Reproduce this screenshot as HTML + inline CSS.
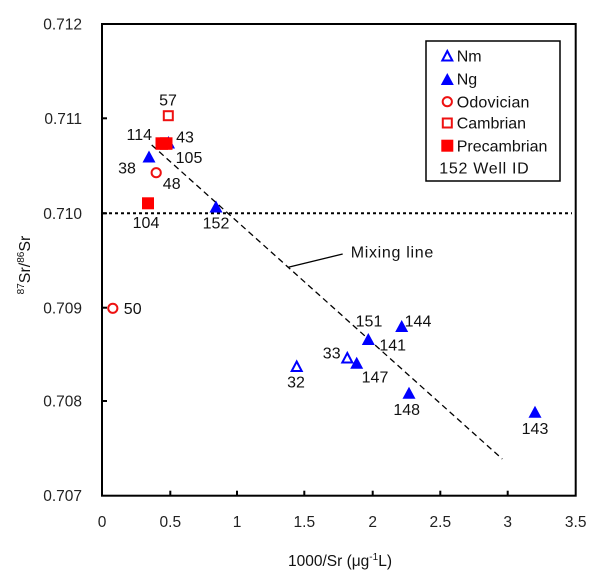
<!DOCTYPE html>
<html><head><meta charset="utf-8"><style>
html,body{margin:0;padding:0;background:#fff;}
svg{display:block;font-family:"Liberation Sans",Arial,sans-serif;}
</style></head><body>
<svg width="600" height="582" viewBox="0 0 600 582" xmlns="http://www.w3.org/2000/svg">
<rect width="600" height="582" fill="#fff"/>
<!-- 0.710 dotted line -->
<line x1="103" y1="213.3" x2="572" y2="213.3" stroke="#000" stroke-width="2" stroke-dasharray="3 3"/>
<!-- mixing line -->
<line x1="151.7" y1="145" x2="502.3" y2="459" stroke="#000" stroke-width="1.3" stroke-dasharray="6 4"/>
<line x1="288.3" y1="267.3" x2="342.7" y2="254" stroke="#000" stroke-width="1.3"/>
<text x="350.7" y="257.5" font-size="16" letter-spacing="0.7" fill="#111">Mixing line</text>

<!-- frame -->
<rect x="102" y="24" width="473.7" height="471.7" fill="none" stroke="#000" stroke-width="2"/>
<!-- y ticks -->
<g stroke="#000" stroke-width="2">
<line x1="102" y1="118.3" x2="107" y2="118.3"/>
<line x1="102" y1="213.3" x2="107" y2="213.3"/>
<line x1="102" y1="307.7" x2="107" y2="307.7"/>
<line x1="102" y1="401" x2="107" y2="401"/>
<line x1="170.3" y1="495.7" x2="170.3" y2="490.7"/>
<line x1="237" y1="495.7" x2="237" y2="490.7"/>
<line x1="304.3" y1="495.7" x2="304.3" y2="490.7"/>
<line x1="372.7" y1="495.7" x2="372.7" y2="490.7"/>
<line x1="440.3" y1="495.7" x2="440.3" y2="490.7"/>
<line x1="507.7" y1="495.7" x2="507.7" y2="490.7"/>
</g>
<g font-size="15.5" fill="#222" text-anchor="end">
<text x="82" y="29.5">0.712</text>
<text x="82" y="124">0.711</text>
<text x="82" y="219">0.710</text>
<text x="82" y="313.5">0.709</text>
<text x="82" y="406.5">0.708</text>
<text x="82" y="501">0.707</text>
</g>
<g font-size="15.5" fill="#222" text-anchor="middle">
<text x="102" y="527">0</text>
<text x="170.3" y="527">0.5</text>
<text x="237" y="527">1</text>
<text x="304.3" y="527">1.5</text>
<text x="372.7" y="527">2</text>
<text x="440.3" y="527">2.5</text>
<text x="507.7" y="527">3</text>
<text x="575.7" y="527">3.5</text>
</g>
<!-- axis titles -->
<text x="340" y="566" font-size="15.5" fill="#111" text-anchor="middle">1000/Sr (μg<tspan font-size="10" dy="-6">-1</tspan><tspan dy="6">L)</tspan></text>
<text transform="translate(30,265) rotate(-90)" font-size="16" fill="#111" text-anchor="middle"><tspan font-size="10" dy="-6">87</tspan><tspan dy="6">Sr/</tspan><tspan font-size="10" dy="-6">86</tspan><tspan dy="6">Sr</tspan></text>

<!-- Nm open triangles -->
<g fill="none" stroke="#0000ff" stroke-width="2">
<path d="M296.7,361.5 L301.7,371 L291.7,371 Z"/>
<path d="M347.3,353 L352.3,362.5 L342.3,362.5 Z"/>
</g>
<!-- Ng filled triangles -->
<g fill="#0000ff">
<path d="M168.5,136 L175,148.5 L162,148.5 Z"/>
<path d="M149,150.5 L155.5,162.5 L142.5,162.5 Z"/>
<path d="M216,200.5 L222.5,212.5 L209.5,212.5 Z"/>
<path d="M368.3,333 L374.8,345 L361.8,345 Z"/>
<path d="M401.7,320 L408.2,332 L395.2,332 Z"/>
<path d="M356.7,356.7 L363.2,368.7 L350.2,368.7 Z"/>
<path d="M409,386.7 L415.5,398.7 L402.5,398.7 Z"/>
<path d="M535,405.7 L541.5,417.7 L528.5,417.7 Z"/>
</g>
<!-- Odovician circles -->
<g fill="none" stroke="#ee1111" stroke-width="2">
<circle cx="156.2" cy="172.7" r="4.6"/>
<circle cx="112.8" cy="308.3" r="4.6"/>
<!-- Cambrian open square -->
<rect x="163.8" y="111.2" width="9" height="9"/>
</g>
<!-- Precambrian filled squares -->
<g fill="#ff0000">
<rect x="142" y="197.3" width="12" height="12"/>
<rect x="155.5" y="137.3" width="12.5" height="12.5"/>
<rect x="160" y="137.3" width="12.5" height="12.5"/>
</g>

<!-- point labels -->
<g font-size="16" fill="#111" text-anchor="middle">
<text x="168" y="105.7">57</text>
<text x="139.3" y="140">114</text>
<text x="185" y="142.4">43</text>
<text x="189" y="163">105</text>
<text x="127" y="173.4">38</text>
<text x="171.7" y="189">48</text>
<text x="146" y="228.2">104</text>
<text x="216" y="228.7">152</text>
<text x="132.7" y="314.2">50</text>
<text x="296" y="387.4">32</text>
<text x="331.7" y="358.4">33</text>
<text x="375" y="382.4">147</text>
<text x="369" y="326.4">151</text>
<text x="392.7" y="350.7">141</text>
<text x="418" y="326.4">144</text>
<text x="406.7" y="415">148</text>
<text x="535" y="434">143</text>
</g>

<!-- legend -->
<rect x="426" y="41" width="134" height="140" fill="#fff" stroke="#000" stroke-width="1.5"/>
<path d="M447.3,51 L452.3,60.5 L442.3,60.5 Z" fill="none" stroke="#0000ff" stroke-width="2"/>
<path d="M447.3,73 L453.8,85 L440.8,85 Z" fill="#0000ff"/>
<circle cx="447.3" cy="101.7" r="4.6" fill="none" stroke="#ee1111" stroke-width="2"/>
<rect x="442.8" y="118.5" width="9" height="9" fill="none" stroke="#ee1111" stroke-width="2"/>
<rect x="441.3" y="139.7" width="12" height="12" fill="#ff0000"/>
<g font-size="16" fill="#111">
<text x="456.7" y="61.7">Nm</text>
<text x="456.7" y="84.7">Ng</text>
<text x="456.7" y="107.4" letter-spacing="0.2">Odovician</text>
<text x="456.7" y="128.7">Cambrian</text>
<text x="456.7" y="151.4">Precambrian</text>
<text x="439.3" y="173.4" letter-spacing="0.7">152 Well ID</text>
</g>
</svg>
</body></html>
